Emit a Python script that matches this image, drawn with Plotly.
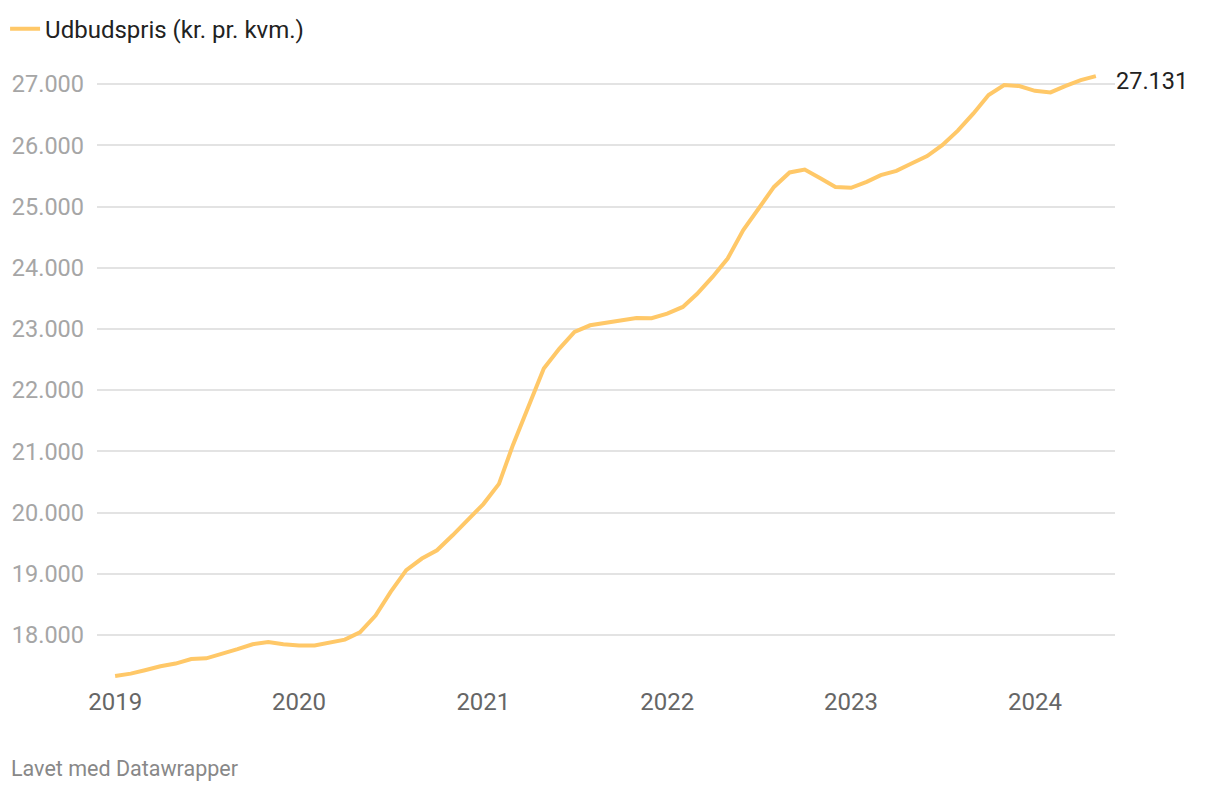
import plotly.graph_objects as go
import pandas as pd

# månedlige observationer, jan 2019 - maj 2024
maaneder = pd.date_range("2019-01-01", "2024-05-01", freq="MS")
udbudspris = [
    17332, 17370, 17425, 17490, 17535, 17610, 17620, 17690, 17770, 17850, 17885, 17850,  # 2019
    17830, 17830, 17870, 17925, 18045, 18320, 18705, 19060, 19250, 19385, 19630, 19880,  # 2020
    20140, 20470, 21110, 21740, 22355, 22680, 22953, 23060, 23105, 23140, 23180, 23175,  # 2021
    23250, 23360, 23570, 23850, 24150, 24615, 24970, 25320, 25557, 25605, 25460, 25320,  # 2022
    25305, 25403, 25513, 25583, 25703, 25824, 26003, 26240, 26520, 26820, 26984, 26967,  # 2023
    26890, 26864, 26967, 27065, 27131,  # 2024
]
serie_navn = "Udbudspris (kr. pr. kvm.)"
y_ticks = [18000, 19000, 20000, 21000, 22000, 23000, 24000, 25000, 26000, 27000]

linjefarve = "#ffc868"
font = "Roboto"

fig = go.Figure()

fig.add_trace(go.Scatter(
    x=maaneder, y=udbudspris,
    mode="lines",
    name=serie_navn,
    line=dict(color=linjefarve, width=4),
    hoverinfo="skip",
))

# slutværdi ved linjens ende
fig.add_annotation(
    x=maaneder[-1], y=udbudspris[-1],
    text=f"{udbudspris[-1]:,}".replace(",", "."),
    showarrow=False, xanchor="left", yanchor="middle",
    xshift=18, yshift=-5,
    font=dict(family=font, size=23.5, color="#222222"),
)

fig.add_annotation(
    x=-0.086, y=-0.144, xref="paper", yref="paper",
    text="Lavet med Datawrapper",
    showarrow=False, xanchor="left", yanchor="middle",
    font=dict(family=font, size=21.5, color="#888888"),
)

# siden har 8 px kant, så figuren er 8 px mindre end vinduet
fig.update_layout(
    width=1212, height=784,
    margin=dict(l=89, r=105, t=62, b=111, autoexpand=False),
    paper_bgcolor="white", plot_bgcolor="white",
    separators=",.",
    font=dict(family=font),
    showlegend=True,
    legend=dict(
        orientation="h", x=-0.0903, y=1.067, xanchor="left", yanchor="middle",
        font=dict(family=font, size=24, color="#222222"),
        itemwidth=30,
    ),
)

fig.update_xaxes(
    range=["2018-11-26", "2024-06-08"],
    dtick="M12", tick0="2019-01-01", tickformat="%Y",
    showgrid=False, zeroline=False, showline=False, automargin=False,
    ticks="", ticklabelstandoff=4,
    tickfont=dict(family=font, size=24, color="#666666"),
)

fig.update_yaxes(
    range=[17250, 27230],
    tickvals=y_ticks, tickformat=",d",
    showgrid=True, gridcolor="#e3e3e3", gridwidth=1.5,
    zeroline=False, showline=False, automargin=False,
    ticks="", ticklabelstandoff=12,
    tickfont=dict(family=font, size=23.5, color="#a6a6a6"),
)

fig.write_html("out.html")
